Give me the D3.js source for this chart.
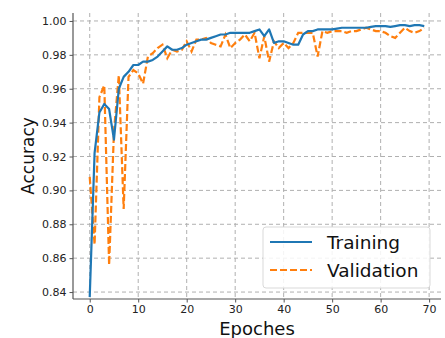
<!DOCTYPE html>
<html>
<head>
<meta charset="utf-8">
<script src="https://d3js.org/d3.v7.min.js"></script>
<style>
  body { margin: 0; background: #fff; }
  svg { font-family: "DejaVu Sans", sans-serif; }
</style>
</head>
<body>
<div id="chart"></div>
<script>
// accuracy per epoch
const epochs = d3.range(0, 70);
const training = [
  0.837, 0.922, 0.946, 0.951, 0.948, 0.930, 0.960, 0.967, 0.970, 0.974,
  0.974, 0.976, 0.976, 0.977, 0.979, 0.982, 0.985, 0.983, 0.983, 0.984,
  0.986, 0.987, 0.988, 0.989, 0.989, 0.990, 0.991, 0.992, 0.992, 0.993,
  0.993, 0.993, 0.993, 0.993, 0.994, 0.995, 0.991, 0.995, 0.987, 0.988,
  0.988, 0.987, 0.986, 0.986, 0.992, 0.994, 0.994, 0.995, 0.995, 0.995,
  0.995, 0.9955, 0.996, 0.996, 0.996, 0.996, 0.996, 0.996, 0.9965, 0.997,
  0.997, 0.997, 0.9965, 0.997, 0.9975, 0.9975, 0.997, 0.9975, 0.9975, 0.997
];
const validation = [
  0.908, 0.868, 0.955, 0.962, 0.856, 0.935, 0.968, 0.889, 0.967, 0.971,
  0.969, 0.963, 0.979, 0.981, 0.984, 0.986, 0.978, 0.983, 0.982, 0.983,
  0.988, 0.982, 0.989, 0.989, 0.990, 0.987, 0.986, 0.985, 0.992, 0.984,
  0.987, 0.989, 0.992, 0.988, 0.993, 0.978, 0.991, 0.976, 0.988, 0.984,
  0.987, 0.984, 0.987, 0.993, 0.993, 0.993, 0.993, 0.979, 0.994, 0.993,
  0.994, 0.994, 0.994, 0.993, 0.994, 0.994, 0.995, 0.996, 0.995, 0.994,
  0.994, 0.993, 0.991, 0.990, 0.993, 0.996, 0.994, 0.993, 0.994, 0.996
];
const xTicks = [0, 10, 20, 30, 40, 50, 60, 70];
const yTicks = [0.84, 0.86, 0.88, 0.90, 0.92, 0.94, 0.96, 0.98, 1.00];
const seriesNames = ["Training", "Validation"];

const width = 445, height = 338;
const margin = {top: 13, right: 4, bottom: 39, left: 73};

const svg = d3.select("#chart").append("svg")
    .attr("width", width)
    .attr("height", height);

const x = d3.scaleLinear()
    .domain([-3.45, 72.45])
    .range([margin.left, width - margin.right]);

const y = d3.scaleLinear()
    .domain([0.8359, 1.0047])
    .range([height - margin.bottom, margin.top]);

// grid
const grid = svg.append("g").attr("class", "grid");
grid.selectAll("line.vx")
    .data(xTicks)
    .enter().append("line")
    .attr("x1", d => x(d)).attr("x2", d => x(d))
    .attr("y1", margin.top).attr("y2", height - margin.bottom)
    .attr("stroke", "#b0b0b0")
    .attr("stroke-width", 1)
    .attr("stroke-dasharray", "4,3");
grid.selectAll("line.hy")
    .data(yTicks)
    .enter().append("line")
    .attr("x1", margin.left).attr("x2", width - margin.right)
    .attr("y1", d => y(d)).attr("y2", d => y(d))
    .attr("stroke", "#b0b0b0")
    .attr("stroke-width", 1)
    .attr("stroke-dasharray", "4,3");

// axes
const xAxis = svg.append("g")
    .attr("transform", `translate(0,${height - margin.bottom})`)
    .call(d3.axisBottom(x).tickValues(xTicks).tickSize(3.5).tickPadding(3).tickFormat(d3.format("d")));
const yAxis = svg.append("g")
    .attr("transform", `translate(${margin.left},0)`)
    .call(d3.axisLeft(y).tickValues(yTicks).tickSize(3.5).tickPadding(3).tickFormat(d3.format(".2f")));

[xAxis, yAxis].forEach(ax => {
    ax.select(".domain").attr("stroke", "#555").attr("stroke-width", 1.2);
    ax.selectAll(".tick line").attr("stroke", "#555");
    ax.selectAll(".tick text")
        .attr("fill", "#222")
        .style("font-size", "11px")
        .style("font-family", "DejaVu Sans");
});
// matplotlib-like spine without end caps
xAxis.select(".domain").attr("d", `M${margin.left},0H${width - margin.right}`);
yAxis.select(".domain").attr("d", `M0,${margin.top}V${height - margin.bottom}`);

// lines
const line = d3.line()
    .x((d, i) => x(epochs[i]))
    .y(d => y(d));

svg.append("path")
    .datum(validation)
    .attr("fill", "none")
    .attr("stroke", "#ff7f0e")
    .attr("stroke-width", 2.2)
    .attr("stroke-dasharray", "7,3")
    .attr("d", line);

svg.append("path")
    .datum(training)
    .attr("fill", "none")
    .attr("stroke", "#1f77b4")
    .attr("stroke-width", 2.2)
    .attr("stroke-linejoin", "round")
    .attr("d", line);

// axis labels
svg.append("text")
    .attr("x", (margin.left + width - margin.right) / 2 + 0)
    .attr("y", 335)
    .attr("text-anchor", "middle")
    .style("font-size", "18px")
    .attr("fill", "#111")
    .text("Epoches");

svg.append("text")
    .attr("transform", `translate(34,${(margin.top + height - margin.bottom) / 2}) rotate(-90)`)
    .attr("text-anchor", "middle")
    .style("font-size", "17px")
    .attr("fill", "#111")
    .text("Accuracy");

// legend
const legend = svg.append("g").attr("transform", "translate(263,227)");
legend.append("rect")
    .attr("width", 167).attr("height", 61)
    .attr("rx", 3)
    .attr("fill", "#fff")
    .attr("fill-opacity", 0.85)
    .attr("stroke", "#d9d9d9");

const colors = ["#1f77b4", "#ff7f0e"];
const dashes = [null, "7,3"];
seriesNames.forEach((name, i) => {
    const ly = 15 + i * 28;
    legend.append("line")
        .attr("x1", 7).attr("x2", 49)
        .attr("y1", ly).attr("y2", ly)
        .attr("stroke", colors[i])
        .attr("stroke-width", 2.2)
        .attr("stroke-dasharray", dashes[i]);
    legend.append("text")
        .attr("x", 64)
        .attr("y", ly + 7)
        .style("font-size", "18.5px")
        .attr("fill", "#111")
        .text(name);
});
</script>
</body>
</html>
